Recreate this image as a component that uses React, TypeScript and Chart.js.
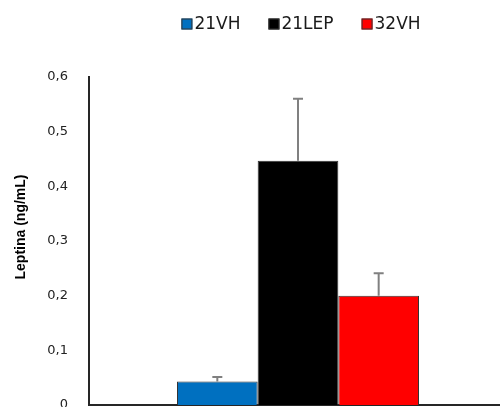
import { useEffect, useRef } from "react";
import { Chart, registerables } from "chart.js";

Chart.register(...registerables);

// Data
const categories = ["Leptina"];
const seriesNames = ["21VH", "21LEP", "32VH"];
const values21VH = [0.043];
const values21LEP = [0.447];
const values32VH = [0.2];
const errors21VH = [0.008];
const errors21LEP = [0.113];
const errors32VH = [0.041];
const yTickLabels = ["0", "0,1", "0,2", "0,3", "0,4", "0,5", "0,6"];
const yAxisTitle = "Leptina (ng/mL)";

const seriesValues = [values21VH, values21LEP, values32VH];
const seriesErrors = [errors21VH, errors21LEP, errors32VH];
const seriesColors = ["#0070C0", "#000000", "#FF0000"];

// Upper error whiskers drawn above each bar
const errorBarsPlugin = {
  id: "errorBars",
  afterDatasetsDraw(chart: any) {
    const ctx = chart.ctx;
    const yScale = chart.scales.y;
    chart.data.datasets.forEach((ds: any, i: number) => {
      const meta = chart.getDatasetMeta(i);
      const errs = seriesErrors[i];
      meta.data.forEach((bar: any, j: number) => {
        const top = yScale.getPixelForValue(ds.data[j] + errs[j]);
        ctx.save();
        ctx.strokeStyle = "#808080";
        ctx.lineWidth = 2;
        ctx.beginPath();
        ctx.moveTo(bar.x, bar.y);
        ctx.lineTo(bar.x, top);
        ctx.moveTo(bar.x - 5, top);
        ctx.lineTo(bar.x + 5, top);
        ctx.stroke();
        ctx.restore();
      });
    });
  },
};

// Legend row above the plot
const legendRowPlugin = {
  id: "legendRow",
  afterDraw(chart: any) {
    const ctx = chart.ctx;
    const box = 11;
    const textGap = 2;
    const itemGap = 28;
    const centerX = 301;
    const centerY = 24;
    ctx.save();
    ctx.font = "17px 'DejaVu Sans'";
    const widths = chart.data.datasets.map((ds: any) => ctx.measureText(ds.label).width);
    const total =
      widths.reduce((a: number, w: number) => a + box + textGap + w, 0) +
      itemGap * (widths.length - 1);
    let x = centerX - total / 2;
    chart.data.datasets.forEach((ds: any, i: number) => {
      ctx.fillStyle = ds.backgroundColor;
      ctx.fillRect(x, centerY - box / 2, box, box);
      ctx.strokeStyle = "#333333";
      ctx.lineWidth = 1;
      ctx.strokeRect(x + 0.5, centerY - box / 2 + 0.5, box - 1, box - 1);
      ctx.fillStyle = "#1a1a1a";
      ctx.textBaseline = "middle";
      ctx.textAlign = "left";
      ctx.fillText(ds.label, x + box + textGap, centerY + 1);
      x += box + textGap + widths[i] + itemGap;
    });
    ctx.restore();
  },
};

// Rotated y-axis title
const yTitlePlugin = {
  id: "yTitle",
  afterDraw(chart: any) {
    const ctx = chart.ctx;
    ctx.save();
    ctx.translate(25, 227);
    ctx.rotate(-Math.PI / 2);
    ctx.font = "bold 14px 'Liberation Sans'";
    ctx.fillStyle = "#000000";
    ctx.textAlign = "center";
    ctx.textBaseline = "alphabetic";
    ctx.fillText(yAxisTitle, 0, 0);
    ctx.restore();
  },
};

export default function App() {
  const canvasRef = useRef<HTMLCanvasElement | null>(null);

  useEffect(() => {
    const canvas = canvasRef.current;
    if (!canvas) return;
    const chart = new Chart(canvas, {
      type: "bar",
      data: {
        labels: categories,
        datasets: seriesNames.map((name, i) => ({
          label: name,
          data: seriesValues[i],
          backgroundColor: seriesColors[i],
          borderColor: "#333333",
          borderWidth: 1,
          categoryPercentage: 0.579,
          barPercentage: 1,
        })),
      },
      options: {
        animation: false,
        responsive: false,
        maintainAspectRatio: false,
        layout: { autoPadding: false, padding: { top: 77, right: 0, bottom: 2, left: 0 } },
        plugins: {
          legend: { display: false },
          tooltip: { enabled: false },
        },
        scales: {
          x: {
            grid: { display: false, drawTicks: false },
            ticks: { display: false },
            border: { display: true, color: "#262626", width: 2 },
          },
          y: {
            min: 0,
            max: 0.6,
            afterFit: (scale: any) => {
              // fixed axis width; the lowest label is allowed to run off the bottom edge
              scale.width = 89;
              scale.paddingTop = 0;
              scale.paddingBottom = 0;
            },
            grid: { display: false, drawTicks: false },
            border: { display: true, color: "#262626", width: 2 },
            ticks: {
              stepSize: 0.1,
              padding: 21,
              color: "#222222",
              font: { family: "'DejaVu Sans'", size: 13 },
              callback: (_v: any, index: number) => yTickLabels[index],
            },
          },
        },
      },
      plugins: [errorBarsPlugin, legendRowPlugin, yTitlePlugin],
    } as any);
    return () => chart.destroy();
  }, []);

  return (
    <div
      style={{
        position: "absolute",
        left: 0,
        top: 0,
        width: 500,
        height: 407,
        overflow: "hidden",
        background: "#ffffff",
      }}
    >
      <canvas ref={canvasRef} width={507} height={407} style={{ width: 507, height: 407, display: "block" }} />
    </div>
  );
}
